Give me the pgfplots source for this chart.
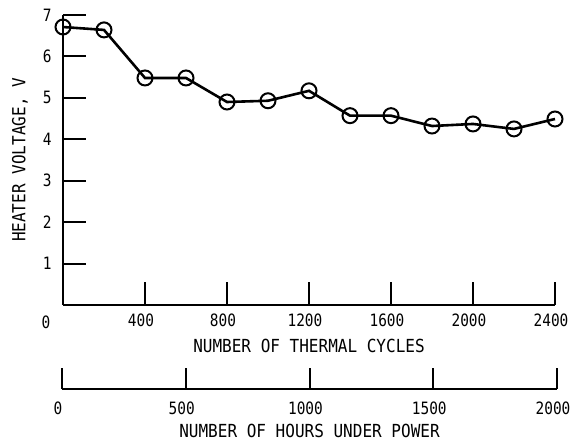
\documentclass[border=0pt]{standalone}
\usepackage{fontspec}
\setmainfont{DejaVu Sans Mono}
\newfontfamily\tickfont[FakeStretch=0.85]{DejaVu Sans Mono}
\newfontfamily\labfont[FakeStretch=0.89]{DejaVu Sans Mono}
\usepackage{pgfplots}
\pgfplotsset{compat=1.18}
\begin{document}
\fontsize{16pt}{19pt}\selectfont
\begin{tikzpicture}
\begin{axis}[
  scale only axis, width=492pt, height=290pt,
  xmin=0, xmax=2400, ymin=0, ymax=7,
  axis x line*=bottom, axis y line*=left,
  axis line style={line width=2pt},
  every tick/.style={line width=2pt, black},
  tick align=inside, major tick length=23pt,
  xtick={400,800,1200,1600,2000,2400},
  ytick={1,2,3,4,5,6,7},
  /pgf/number format/assume math mode=true,
  /pgf/number format/1000 sep={},
  ticklabel style={font=\tickfont\fontsize{17pt}{20pt}\selectfont},
  xticklabel style={yshift=-3pt, xshift=-4pt},
  yticklabel style={xshift=-6pt},
  xlabel={NUMBER OF THERMAL CYCLES},
  ylabel={HEATER VOLTAGE, V},
  label style={font=\labfont\fontsize{18pt}{21pt}\selectfont},
  xlabel style={at={(axis description cs:0.5,0)}, anchor=center, yshift=-41pt},
  ylabel style={at={(axis description cs:0,0.5)}, anchor=center, yshift=43pt},
  clip=false,
]
\addplot[black, line width=2.6pt, mark=o, mark size=7.5pt,
  mark options={fill=white, line width=2pt}] coordinates {
(0,6.71) (200,6.64) (400,5.48) (600,5.48) (800,4.90) (1000,4.93) (1200,5.17)
(1400,4.57) (1600,4.57) (1800,4.32) (2000,4.37) (2200,4.25) (2400,4.49)
};
\node[anchor=center, font=\tickfont\fontsize{17pt}{20pt}\selectfont] at (axis cs:0,0) [xshift=-17pt, yshift=-17pt] {0};
\end{axis}
\begin{axis}[
  at={(-1pt,-84pt)},
  scale only axis, width=495pt, height=30pt,
  xmin=0, xmax=2000, ymin=0, ymax=1,
  axis x line*=bottom, axis y line=none,
  axis line style={line width=2pt},
  every tick/.style={line width=2pt, black},
  tick align=inside, major tick length=21pt,
  xtick={0,500,1000,1500,2000},
  /pgf/number format/assume math mode=true,
  /pgf/number format/1000 sep={},
  ticklabel style={font=\tickfont\fontsize{17pt}{20pt}\selectfont},
  xticklabel style={yshift=-7pt, xshift=-4pt},
  xlabel={NUMBER OF HOURS UNDER POWER},
  label style={font=\labfont\fontsize{18pt}{21pt}\selectfont},
  xlabel style={at={(axis description cs:0.5,0)}, anchor=center, yshift=-42pt},
]
\addplot[draw=none] coordinates {(0,0) (2000,0)};
\end{axis}
\pgfresetboundingbox
\useasboundingbox (-63pt,-138pt) rectangle (510pt,305pt);
\end{tikzpicture}
\end{document}
